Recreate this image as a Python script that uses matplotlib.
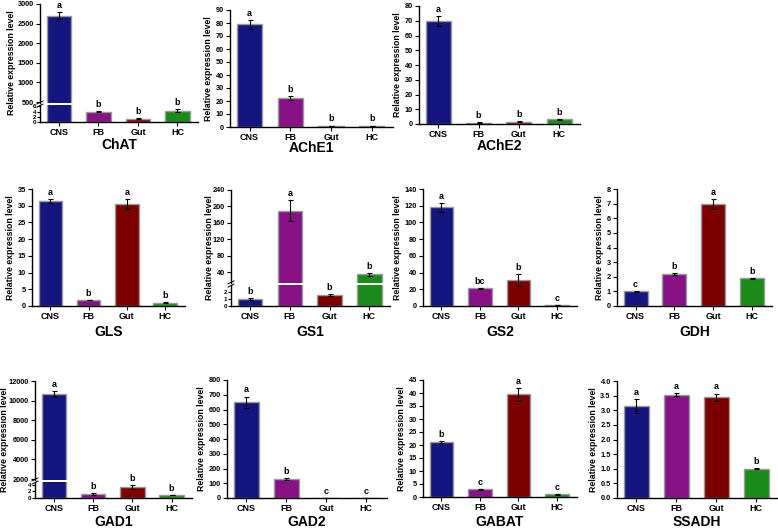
import numpy as np
import matplotlib.pyplot as plt
from matplotlib.lines import Line2D

plt.rcParams['font.family'] = ['Liberation Sans', 'DejaVu Sans']
plt.rcParams['font.weight'] = 'bold'

W, H = 778, 528
tissues = ["CNS", "FB", "Gut", "HC"]
colors = ["#15157f", "#861286", "#7d0000", "#1a8a1a"]

# values
chat = [2700, 3.9, 1.3, 4.3]
chat_err = [90, 0.2, 0.3, 0.5]
chat_let = ["a", "b", "b", "b"]
ache1 = [79, 22.3, 1.0, 1.0]
ache1_err = [3.5, 1.5, 0.1, 0.1]
ache1_let = ["a", "b", "b", "b"]
ache2 = [70, 1.0, 1.5, 3.2]
ache2_err = [3.5, 0.1, 0.3, 0.2]
ache2_let = ["a", "b", "b", "b"]
gls = [31.4, 1.8, 30.6, 1.0]
gls_err = [0.7, 0.1, 1.5, 0.05]
gls_let = ["a", "b", "a", "b"]
gs1 = [1.0, 190, 1.5, 35]
gs1_err = [0.15, 26, 0.15, 4]
gs1_let = ["b", "a", "b", "b"]
gs2 = [118, 21, 31, 1.0]
gs2_err = [5, 1, 7, 0.1]
gs2_let = ["a", "bc", "b", "c"]
gdh = [1.0, 2.2, 6.95, 1.9]
gdh_err = [0.04, 0.07, 0.35, 0.03]
gdh_let = ["c", "b", "a", "b"]
gad1 = [10700, 1.3, 3.4, 0.9]
gad1_err = [300, 0.3, 0.5, 0.1]
gad1_let = ["a", "b", "b", "b"]
gad2 = [650, 130, 1.0, 1.0]
gad2_err = [38, 7, 0.1, 0.1]
gad2_let = ["a", "b", "c", "c"]
gabat = [21, 3.0, 39.5, 1.0]
gabat_err = [0.4, 0.2, 2.5, 0.1]
gabat_let = ["b", "c", "a", "c"]
ssadh = [3.15, 3.53, 3.45, 1.0]
ssadh_err = [0.23, 0.05, 0.12, 0.02]
ssadh_let = ["a", "a", "a", "b"]

fig = plt.figure(figsize=(W / 100, H / 100), dpi=100)


def rect(l, t, r, b):
    return [l / W, 1 - b / H, (r - l) / W, (b - t) / H]


def style(ax, bottom=True):
    for s in ["top", "right"]:
        ax.spines[s].set_visible(False)
    ax.spines["left"].set_linewidth(1.0)
    ax.spines["bottom"].set_linewidth(1.0)
    ax.patch.set_visible(False)
    ax.tick_params(axis="y", direction="out", length=3, width=0.8, labelsize=5.3, pad=1.5)
    ax.tick_params(axis="x", direction="out", length=3, width=0.8, labelsize=6.5, pad=1.5)
    ax.set_xlim(-0.48, 3.52)
    if bottom:
        ax.set_xticks(range(4))
        ax.set_xticklabels(tissues, fontweight="bold")
    else:
        ax.spines["bottom"].set_visible(False)
        ax.set_xticks([])


def bars(ax, vals, errs):
    x = np.arange(4)
    ax.bar(x, vals, width=0.62, color=colors, edgecolor="#9a9a9a", linewidth=1.0, zorder=2)
    ax.errorbar(x, vals, yerr=errs, fmt="none", ecolor="black", elinewidth=0.8,
                capsize=1.8, capthick=0.8, zorder=3)


def letter(ax, i, y, t):
    ax.annotate(t, (i, y), xytext=(0, 1.5), textcoords="offset points",
                ha="center", va="bottom", fontsize=6.5, fontweight="bold")


def title(name, l, r, y):
    fig.text((l + r) / 2 / W, 1 - y / H, name, ha="center", va="center",
             fontsize=10, fontweight="bold")


def ylab(x, t, b):
    fig.text(x / W, 1 - (t + b) / 2 / H, "Relative expression level", rotation=90,
             ha="center", va="center", fontsize=6.3, fontweight="bold")


def simple(name, vals, errs, lets, box, ylim, yticks, ty, fmt=None):
    l, t, r, b = box
    ax = fig.add_axes(rect(l, t, r, b))
    bars(ax, vals, errs)
    for i in range(4):
        letter(ax, i, vals[i] + errs[i], lets[i])
    ax.set_ylim(*ylim)
    ax.set_yticks(yticks)
    if fmt:
        ax.set_yticklabels([fmt % v for v in yticks])
    style(ax)
    ax.set_ylabel("Relative expression level", fontsize=6.3, fontweight="bold", labelpad=2)
    title(name, l, r, ty)
    return ax


def broken(name, vals, errs, lets, l, r, top, brk_hi, brk_lo, base, ylo, yhi,
           ticks_lo, ticks_hi, ty, lx):
    axl = fig.add_axes(rect(l, brk_lo, r, base))
    axu = fig.add_axes(rect(l, top, r, brk_hi))
    for ax in (axl, axu):
        bars(ax, vals, errs)
    axl.set_ylim(*ylo)
    axu.set_ylim(*yhi)
    axl.set_yticks(ticks_lo)
    axu.set_yticks(ticks_hi)
    style(axl)
    style(axu, bottom=False)
    axl.tick_params(axis="y", labelsize=4.5, length=2, pad=1)
    for i in range(4):
        top_v = vals[i] + errs[i]
        letter(axl if top_v < ylo[1] else axu, i, top_v, lets[i])
    ylab(lx, top, base)
    # break marks on the y axis
    mid = (brk_hi + brk_lo) / 2
    for dy in (-1.6, 1.6):
        fig.add_artist(Line2D([(l - 3) / W, (l + 3) / W],
                              [1 - (mid + dy + 1.5) / H, 1 - (mid + dy - 1.5) / H],
                              color="black", lw=0.7))
    title(name, l, r, ty)


broken("ChAT", chat, chat_err, chat_let, 40, 198, 4, 103, 105, 122,
       (0, 6.5), (475, 3000), [0, 2, 4, 6], np.arange(500, 3001, 500), 145, 12)
simple("AChE1", ache1, ache1_err, ache1_let, (230, 10, 393, 127), (0, 90),
       np.arange(0, 91, 10), 148)
simple("AChE2", ache2, ache2_err, ache2_let, (419, 6, 580, 124), (0, 80),
       np.arange(0, 81, 10), 146)

simple("GLS", gls, gls_err, gls_let, (32, 189, 185, 306), (0, 35),
       np.arange(0, 36, 5), 332)
broken("GS1", gs1, gs1_err, gs1_let, 231, 390, 190, 283, 285, 306,
       (0, 2.9), (14, 240), [0, 1, 2], np.arange(40, 241, 40), 332, 209)
simple("GS2", gs2, gs2_err, gs2_let, (423, 189, 577, 306), (0, 140),
       np.arange(0, 141, 20), 332)
simple("GDH", gdh, gdh_err, gdh_let, (617, 189, 772, 306), (0, 8),
       np.arange(0, 9, 1), 332)

broken("GAD1", gad1, gad1_err, gad1_let, 35, 192, 381, 480, 482, 498,
       (0, 4.9), (1900, 12000), [0, 2, 4], np.arange(2000, 12001, 2000), 522, 5)
simple("GAD2", gad2, gad2_err, gad2_let, (227, 380, 387, 498), (0, 800),
       np.arange(0, 801, 100), 522)
simple("GABAT", gabat, gabat_err, gabat_let, (423, 380, 577, 497), (0, 45),
       np.arange(0, 46, 5), 522)
simple("SSADH", ssadh, ssadh_err, ssadh_let, (617, 381, 777, 498), (0, 4.0),
       np.arange(0, 4.01, 0.5), 522, fmt="%.1f")

fig.savefig("out.png", dpi=100)
